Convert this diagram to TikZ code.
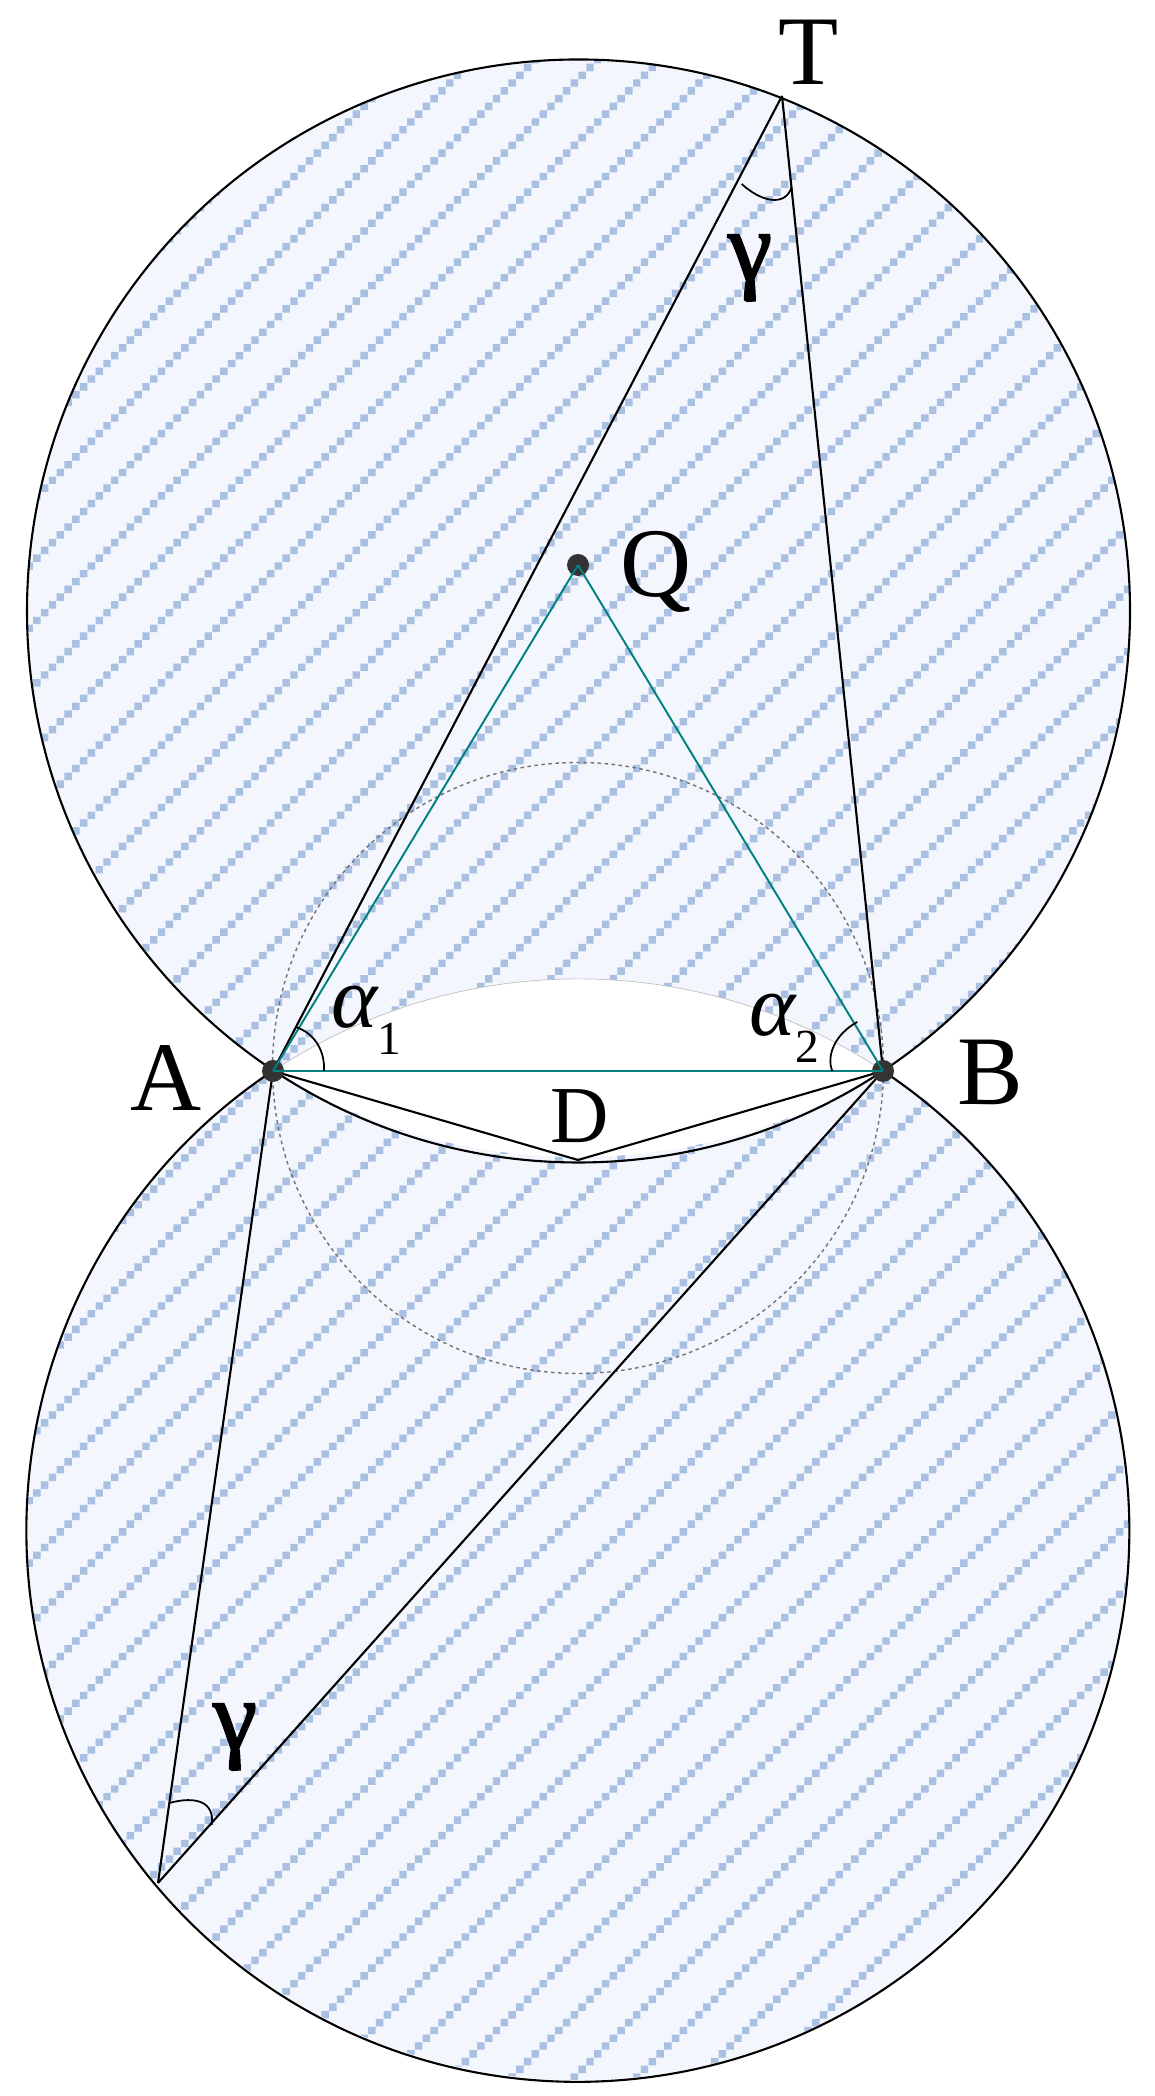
\documentclass[tikz,border=0pt]{standalone}
\usepackage{fontspec}
\setmainfont{Liberation Serif}
\newfontfamily\gammafont[FakeBold=2.2]{Liberation Serif}
\definecolor{paleblue}{HTML}{F3F6FC}
\definecolor{stripe}{HTML}{A9C0E2}
\definecolor{chord}{HTML}{008080}
\definecolor{point}{HTML}{333333}
\newcommand{\bigfont}{\fontsize{28}{32}\selectfont}
\newcommand{\angfont}{\fontsize{25}{28}\selectfont}
\newcommand{\subfont}{\fontsize{13.5}{15}\selectfont}
\tikzset{
  dot/.style={circle,fill=point,inner sep=0pt,minimum size=.22cm},
  lab/.style={inner sep=0pt,font=\bigfont},
  edge/.style={line width=.6pt,black},
  teal/.style={line width=.55pt,chord}
}
\begin{document}
\begin{tikzpicture}
  \useasboundingbox (0,0) rectangle (11.54,20.96);

  \coordinate (u) at (5.785,14.85);
  \coordinate (v) at (5.785,5.675);
  \coordinate (t) at (7.82,20.00);
  \coordinate (d) at (5.78,9.36);
  \coordinate (l) at (1.58,2.13);
  \coordinate (p) at (2.73,10.25);
  \coordinate (r) at (8.83,10.25);

  \fill[paleblue] (u) circle (5.515cm) (v) circle (5.515cm);
  \begin{scope}
    \clip (u) circle (5.515cm) (v) circle (5.515cm);
    \fill[stripe] \foreach \j in {0,...,276} \foreach \k in {0,...,18}
      { ({.0574+.0779*(mod(\j,8)+8*\k)-.037},{-.513+.0779*\j-.037}) rectangle ++(.074,.074) };
  \end{scope}

  % the part the two circles share
  \fill[white] (p) arc[start angle=123.6,end angle=56.4,radius=5.515cm]
    arc[start angle=301.45,end angle=238.55,radius=5.856cm] -- cycle;
  \draw[gray!50,line width=.2pt] (p) arc[start angle=123.6,end angle=56.4,radius=5.515cm];

  \draw[gray!90!black,line width=.4pt,dash pattern=on 1pt off 1pt] (5.78,10.28) circle (3.055cm);

  \draw[edge] (u) circle (5.515cm);
  \draw[edge] (r) arc[start angle=56.4,end angle=-236.4,radius=5.515cm];

  \foreach \from/\to in {t/p, t/r, l/p, l/r, p/d, r/d}
    \draw[edge] (\from) -- (\to);

  \node[dot] (a) at (p) {};
  \node[dot] (b) at (r) {};
  \node[dot] (q) at (5.78,15.31) {};

  \foreach \from/\to in {a/b, a/q, b/q}
    \draw[teal] (\from.center) -- (\to.center);

  % angle marks
  \draw[edge,line width=.5pt] (2.967,10.687) .. controls (3.15,10.62) and (3.25,10.45) .. (3.24,10.25);
  \draw[edge,line width=.5pt] (8.573,10.74) .. controls (8.35,10.62) and (8.26,10.40) .. (8.323,10.25);
  \draw[edge,line width=.5pt] (7.417,19.12) .. controls (7.6,18.95) and (7.85,18.88) .. (7.917,19.09);
  \draw[edge,line width=.5pt] (1.693,2.93) .. controls (1.95,3.0) and (2.15,2.95) .. (2.117,2.71);

  \node[lab] (lt) at (8.09,20.44) {T};
  \node[lab] (la) at (1.66,10.18) {A};
  \node[lab] (lb) at (9.90,10.24) {B};
  \node[lab] (lq) at (6.56,15.24) {Q};
  \node[lab,font=\fontsize{23}{26}\selectfont] (ld) at (5.80,9.80) {D};
  \node[lab,font=\angfont,anchor=base west] (l1) at (3.31,10.68) {\itshape α\raisebox{-.3em}{\subfont\upshape 1}};
  \node[lab,font=\angfont,anchor=base west] (l2) at (7.49,10.60) {\itshape α\raisebox{-.3em}{\subfont\upshape 2}};
  \node[lab,font=\gammafont\bigfont] (g1) at (7.50,18.28) {γ};
  \node[lab,font=\gammafont\bigfont] (g2) at (2.35,3.59) {γ};
\end{tikzpicture}
\end{document}
